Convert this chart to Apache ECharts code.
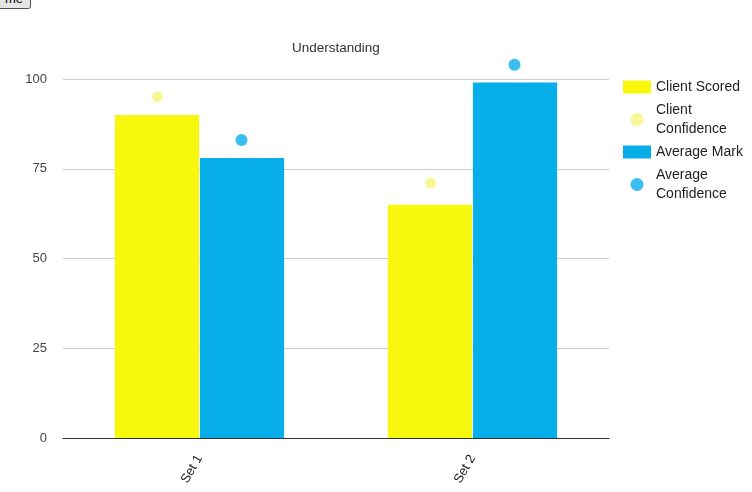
<!DOCTYPE html>
<html>
<head>
<meta charset="utf-8">
<script src="https://cdn.jsdelivr.net/npm/echarts@6/dist/echarts.min.js"></script>
<style>
  html, body { margin: 0; padding: 0; background: #fff; overflow: hidden; }
  #btn { position: absolute; left: -3px; top: -12px; font: 13px "Liberation Sans", Arial, sans-serif; padding: 1px 6px; }
  #chart { position: absolute; left: 0; top: 0; width: 752px; height: 492px; }
</style>
</head>
<body>
<div id="chart"></div>
<button id="btn">me</button>
<script>
const categories = ['Set 1', 'Set 2'];
const clientScored = [90, 65];
const clientConfidence = [95, 71];
const averageMark = [78, 99];
const averageConfidence = [83, 104];
const yTicks = [0, 25, 50, 75, 100];

const font = '"Liberation Sans", Arial, sans-serif';
const chart = echarts.init(document.getElementById('chart'), null, { renderer: 'canvas' });
chart.setOption({
  animation: false,
  title: {
    text: 'Understanding', left: 292, top: 41, padding: 0,
    textStyle: { fontFamily: font, fontSize: 13.5, fontWeight: 'normal', color: '#333' }
  },
  legend: {
    orient: 'vertical', left: 623, top: 77.5, padding: 0, itemWidth: 28, itemHeight: 13, itemGap: 4,
    textStyle: { fontFamily: font, fontSize: 14, color: '#222', width: 92, overflow: 'break', lineHeight: 19 },
    data: [
      { name: 'Client Scored', icon: 'rect' },
      { name: 'Client Confidence', icon: 'circle' },
      { name: 'Average Mark', icon: 'rect' },
      { name: 'Average Confidence', icon: 'circle' }
    ]
  },
  grid: { left: 63, right: 143, top: 79, bottom: 54 },
  xAxis: {
    type: 'category', data: categories,
    axisLine: { lineStyle: { color: '#333', width: 1 } },
    axisTick: { show: false },
    axisLabel: { rotate: 60, fontFamily: font, fontSize: 13, color: '#222', margin: 18 }
  },
  yAxis: {
    type: 'value', min: yTicks[0], max: yTicks[yTicks.length - 1], interval: 25,
    axisLine: { show: false }, axisTick: { show: false },
    axisLabel: { fontFamily: font, fontSize: 13, color: '#444', margin: 16 },
    splitLine: { lineStyle: { color: '#ccc' } }
  },
  series: [
    { name: 'Client Scored', type: 'bar', data: clientScored, barGap: '1%', barCategoryGap: '38%',
      itemStyle: { color: '#f8f80e' } },
    { name: 'Average Mark', type: 'bar', data: averageMark,
      itemStyle: { color: '#08aeea' } },
    { name: 'Client Confidence', type: 'scatter', data: clientConfidence, clip: false,
      symbolSize: 11, symbolOffset: [-42, 0], itemStyle: { color: '#f5f57a' } },
    { name: 'Average Confidence', type: 'scatter', data: averageConfidence, clip: false,
      symbolSize: 12, symbolOffset: [42, 0], itemStyle: { color: '#08aeea' } }
  ]
});
</script>
</body>
</html>
